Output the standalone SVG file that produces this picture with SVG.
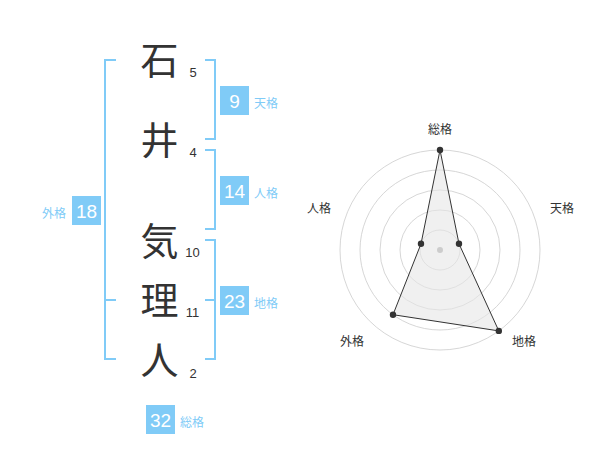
<svg xmlns="http://www.w3.org/2000/svg" width="600" height="470" viewBox="0 0 600 470">
<style>
.br{fill:none;stroke:#80cbf7;stroke-width:2}
.box{fill:#80cbf7}
.bn{font-family:"Liberation Sans","Noto Sans CJK JP",sans-serif;font-size:19px;fill:#fff;text-anchor:middle}
.bl{font-family:"Noto Sans CJK JP",sans-serif;font-size:12px;fill:#80cbf7}
.kj{font-family:"Noto Sans CJK JP",sans-serif;font-size:38px;fill:#333;text-anchor:middle}
.st{font-family:"Liberation Sans",sans-serif;font-size:13px;fill:#333;text-anchor:middle}
.ring{fill:none;stroke:#cccccc;stroke-width:0.8}
.rl{font-family:"Noto Sans CJK JP",sans-serif;font-size:12px;fill:#333;text-anchor:middle}
.pt{fill:#333}
</style>
<rect width="600" height="470" fill="#fff"/>
<g id="connectors">
<path class="br" d="M116,60 H105 V359 H116 M105,300 H116"/>
<path class="br" d="M205,60 H215 V139 H205"/>
<path class="br" d="M205,150 H215 V229 H205"/>
<path class="br" d="M205,240 H215 V359 H205 M205,300 H215"/>
</g>
<g id="char-1"><text class="kj" x="159.5" y="74">石</text><text class="st" x="193" y="77">5</text></g>
<g id="char-2"><text class="kj" x="159.5" y="154">井</text><text class="st" x="193" y="157">4</text></g>
<g id="char-3"><text class="kj" x="159.5" y="255">気</text><text class="st" x="192.5" y="257">10</text></g>
<g id="char-4"><text class="kj" x="159.5" y="314">理</text><text class="st" x="192.5" y="317">11</text></g>
<g id="char-5"><text class="kj" x="159.5" y="374">人</text><text class="st" x="193" y="378">2</text></g>
<g id="tenkaku"><rect class="box" x="220" y="86" width="29" height="29"/><text class="bn" x="234.5" y="107.5">9</text><text class="bl" x="254" y="108">天格</text></g>
<g id="jinkaku"><rect class="box" x="220" y="176" width="29" height="29"/><text class="bn" x="234.5" y="197.5">14</text><text class="bl" x="254" y="198">人格</text></g>
<g id="chikaku"><rect class="box" x="220" y="286" width="29" height="29"/><text class="bn" x="234.5" y="307.5">23</text><text class="bl" x="254" y="308">地格</text></g>
<g id="gaikaku"><rect class="box" x="72" y="196" width="29" height="29"/><text class="bn" x="86.5" y="217.5">18</text><text class="bl" x="66" y="218" text-anchor="end">外格</text></g>
<g id="soukaku"><rect class="box" x="146" y="405" width="29" height="29"/><text class="bn" x="160.5" y="426.5">32</text><text class="bl" x="180" y="427">総格</text></g>
<g id="radar">
<circle class="ring" cx="440" cy="250" r="20"/>
<circle class="ring" cx="440" cy="250" r="40"/>
<circle class="ring" cx="440" cy="250" r="60"/>
<circle class="ring" cx="440" cy="250" r="80"/>
<circle class="ring" cx="440" cy="250" r="100"/>
<polygon points="440,150 459,243.8 498.8,330.9 393,314.7 421,243.8" fill="#e6e6e6" fill-opacity="0.6" stroke="#333" stroke-width="1"/>
<circle cx="440" cy="250" r="3" fill="#cccccc"/>
<circle class="pt" cx="440" cy="150" r="3.2"/>
<circle class="pt" cx="459" cy="243.8" r="3.2"/>
<circle class="pt" cx="498.8" cy="330.9" r="3.2"/>
<circle class="pt" cx="393" cy="314.7" r="3.2"/>
<circle class="pt" cx="421" cy="243.8" r="3.2"/>
<text class="rl" x="440" y="134">総格</text>
<text class="rl" x="562" y="213">天格</text>
<text class="rl" x="319" y="213">人格</text>
<text class="rl" x="352" y="346">外格</text>
<text class="rl" x="524" y="346">地格</text>
</g>
</svg>
